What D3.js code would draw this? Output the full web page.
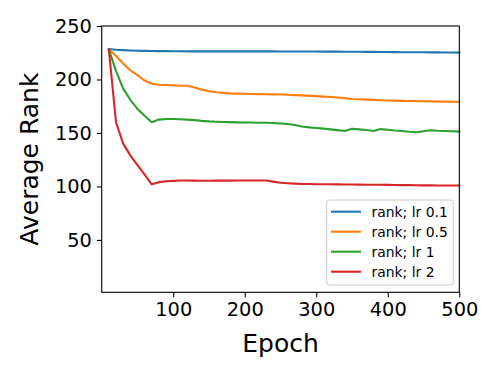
<!DOCTYPE html>
<html>
<head>
<meta charset="utf-8">
<script src="https://cdn.jsdelivr.net/npm/d3@7"></script>
<style>
  body { margin: 0; background: #fff; }
  svg { display: block; font-family: "DejaVu Sans", sans-serif; }
</style>
</head>
<body>
<svg id="chart" width="498" height="374"></svg>
<script>
const epochs = [10,20,30,40,50,60,70,80,90,100,110,120,130,140,150,160,170,180,190,200,
  210,220,230,240,250,260,270,280,290,300,310,320,330,340,350,360,370,380,390,400,
  410,420,430,440,450,460,470,480,490,500];

const rankLr01 = [228.5,227.8,227.4,227.1,226.9,226.7,226.6,226.5,226.5,226.4,226.4,226.3,226.3,226.3,226.3,226.3,226.3,226.3,226.3,226.3,
  226.3,226.3,226.3,226.3,226.2,226.2,226.2,226.1,226.1,226.1,226.0,226.0,226.0,225.9,225.9,225.9,225.8,225.8,225.7,225.7,
  225.6,225.5,225.5,225.4,225.4,225.3,225.3,225.2,225.2,225.1];

const rankLr05 = [228,222,215,208.5,204,199,196,195,194.8,194.5,194.2,194.2,192.5,190.5,189,188,187.5,187,186.8,186.6,
  186.4,186.3,186.2,186.1,186,185.7,185.4,185.1,184.7,184.4,184,183.6,183.2,182.6,181.8,181.5,181.2,180.9,180.6,180.4,
  180.2,180,179.9,179.8,179.6,179.5,179.4,179.3,179.2,179.1];

const rankLr1 = [228,208,191.5,181,172.5,166,160,162.5,163,163,162.8,162.5,162,161.3,160.8,160.5,160.3,160.1,159.9,159.8,
  159.7,159.6,159.5,159.3,158.8,158.3,157.5,156,155.2,154.6,154,153.3,152.6,151.8,154,153.3,152.7,151.8,153.6,153,
  152.3,151.8,151.1,150.6,151.6,152.5,152,151.8,151.6,151.3];

const rankLr2 = [228,160,140,129,120,111,102,104,104.8,105.2,105.5,105.5,105.4,105.3,105.3,105.4,105.4,105.4,105.5,105.5,
  105.5,105.6,105.6,104.5,103.5,103,102.6,102.3,102.2,102.1,102,102,101.9,101.8,101.8,101.7,101.6,101.6,101.5,101.4,
  101.3,101.2,101.2,101.1,101,101,100.9,100.9,100.9,100.9];

const seriesNames = ["rank; lr 0.1", "rank; lr 0.5", "rank; lr 1", "rank; lr 2"];
const seriesValues = [rankLr01, rankLr05, rankLr1, rankLr2];
const colors = ["#1f77b4", "#ff7f0e", "#2ca02c", "#d62728"];
const xTicks = [100, 200, 300, 400, 500];
const yTicks = [50, 100, 150, 200, 250];

const svg = d3.select("#chart");
const L = 101.7, R = 459.3, T = 26, B = 292.3;

const x = d3.scaleLinear().domain([0, 500]).range([L, R]);
const y = d3.scaleLinear().domain([1, 250]).range([B, T]);

const line = d3.line().x(d => x(d[0])).y(d => y(d[1]));

seriesValues.forEach((vals, i) => {
  svg.append("path")
    .datum(epochs.map((e, j) => [e, vals[j]]))
    .attr("fill", "none")
    .attr("stroke", colors[i])
    .attr("stroke-width", 2.1)
    .attr("stroke-linejoin", "round")
    .attr("stroke-linecap", "square")
    .attr("d", line);
});

// axes
const xAxis = svg.append("g").attr("transform", `translate(0,${B})`)
  .call(d3.axisBottom(x).tickValues(xTicks).tickSize(4.9).tickPadding(4.9).tickSizeOuter(0));
const yAxis = svg.append("g").attr("transform", `translate(${L},0)`)
  .call(d3.axisLeft(y).tickValues(yTicks).tickSize(4.9).tickPadding(4.9).tickSizeOuter(0));
[xAxis, yAxis].forEach(g => {
  g.select(".domain").remove();
  g.selectAll(".tick line").attr("stroke", "#000").attr("stroke-width", 1.1);
  g.selectAll(".tick text").attr("fill", "#000").style("font-size", "19.4px")
    .style("font-family", "'DejaVu Sans', sans-serif");
});
xAxis.selectAll(".tick text").attr("dy", "0.72em");

// frame
svg.append("rect").attr("x", L).attr("y", T).attr("width", R - L).attr("height", B - T)
  .attr("fill", "none").attr("stroke", "#000").attr("stroke-width", 1.1);

// axis labels
svg.append("text").attr("x", (L + R) / 2).attr("y", 352).attr("text-anchor", "middle")
  .style("font-size", "25px").text("Epoch");
svg.append("text").attr("transform", `translate(37.5,${(T + B) / 2}) rotate(-90)`)
  .attr("text-anchor", "middle").style("font-size", "25px").text("Average Rank");

// legend
const lg = svg.append("g");
lg.append("rect").attr("x", 326.7).attr("y", 200).attr("width", 126.6).attr("height", 85)
  .attr("rx", 3).attr("fill", "#fff").attr("fill-opacity", 0.8)
  .attr("stroke", "#cccccc").attr("stroke-width", 1);
seriesNames.forEach((name, i) => {
  const yy = 211.7 + i * 20;
  lg.append("line").attr("x1", 331).attr("x2", 361).attr("y1", yy).attr("y2", yy)
    .attr("stroke", colors[i]).attr("stroke-width", 2.1);
  lg.append("text").attr("x", 371.5).attr("y", yy).attr("dy", "0.36em")
    .style("font-size", "13.9px").attr("fill", "#000").text(name);
});
</script>
</body>
</html>
